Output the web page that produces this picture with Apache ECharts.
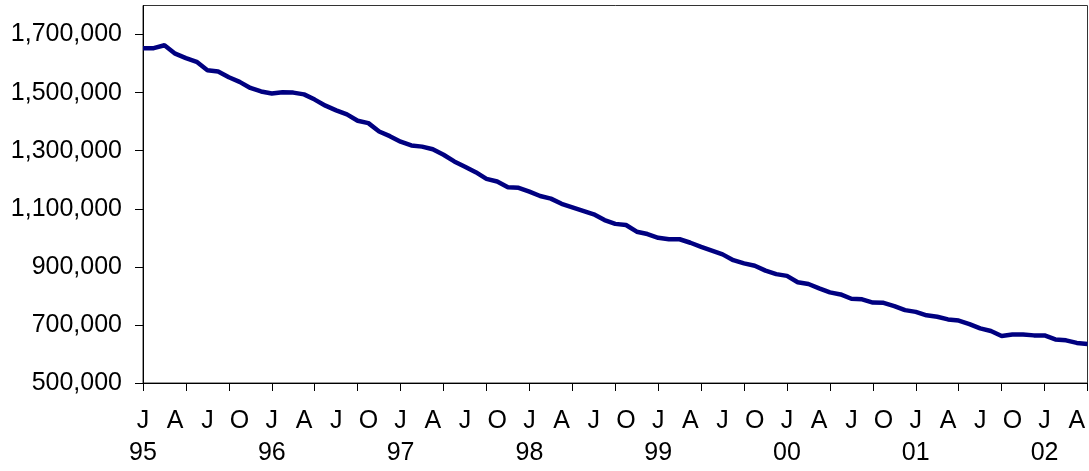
<!DOCTYPE html>
<html>
<head>
<meta charset="utf-8">
<script src="https://cdn.jsdelivr.net/npm/echarts@6/dist/echarts.min.js"></script>
<style>
  html, body { margin: 0; padding: 0; background: #fff; }
  #chart { width: 1089px; height: 471px; }
</style>
</head>
<body>
<div id="chart"></div>
<script>
// month letters and years for the x axis (Jan 1995 .. May 2002)
const monthLetters = ['J', 'F', 'M', 'A', 'M', 'J', 'J', 'A', 'S', 'O', 'N', 'D']
const years = ['95', '96', '97', '98', '99', '00', '01', '02']
const monthCount = 89

// monthly values
const values = [
  1653000, 1653000, 1663000, 1634000, 1619000, 1606000, 1577000, 1573000, 1553000, 1537000, 1516000, 1504000,
  1497000, 1501000, 1500000, 1494000, 1476000, 1455000, 1439000, 1425000, 1403000, 1395000, 1366000, 1350000,
  1331000, 1318000, 1314000, 1305000, 1286000, 1263000, 1245000, 1226000, 1203000, 1194000, 1174000, 1172000,
  1159000, 1144000, 1135000, 1117000, 1105000, 1093000, 1081000, 1061000, 1048000, 1044000, 1021000, 1013000,
  1000000, 995000, 995000, 983000, 969000, 956000, 943000, 923000, 912000, 904000, 887000, 875000,
  869000, 847000, 841000, 826000, 812000, 805000, 790000, 788000, 777000, 776000, 765000, 751000,
  745000, 733000, 728000, 719000, 715000, 703000, 688000, 679000, 662000, 667000, 667000, 664000,
  664000, 650000, 647000, 638000, 634000
]

// y axis ticks
const yMin = 500000
const yMax = 1800000
const yStep = 200000

// categories: one per month
const categories = []
for (let i = 0; i < monthCount; i++) {
  const m = i % 12
  const y = years[Math.floor(i / 12)]
  categories.push(m === 0 ? monthLetters[m] + '\n' + y : monthLetters[m])
}

const chart = echarts.init(document.getElementById('chart'))

const font = '"Liberation Sans", Arial, sans-serif'

chart.setOption({
  animation: false,
  grid: {
    left: 143,
    right: 1.5,
    top: 5.5,
    bottom: 88,
    show: true,
    borderColor: '#333',
    borderWidth: 1
  },
  xAxis: {
    type: 'category',
    data: categories,
    boundaryGap: false,
    axisLine: { lineStyle: { color: '#000', width: 1 } },
    axisTick: { interval: 3, length: 8, lineStyle: { color: '#000' } },
    axisLabel: {
      interval: 2,
      hideOverlap: false,
      color: '#000',
      fontFamily: font,
      fontSize: 25,
      lineHeight: 32,
      margin: 22
    },
    splitLine: { show: false }
  },
  yAxis: {
    type: 'value',
    min: yMin,
    max: yMax,
    interval: yStep,
    axisLine: { show: true, lineStyle: { color: '#000', width: 1 } },
    axisTick: { show: true, length: 8, lineStyle: { color: '#000' } },
    axisLabel: {
      showMaxLabel: false,
      color: '#000',
      fontFamily: font,
      fontSize: 25,
      margin: 21,
      formatter: v => v.toLocaleString('en-US')
    },
    splitLine: { show: false }
  },
  series: [{
    type: 'line',
    data: values,
    showSymbol: false,
    symbol: 'none',
    lineStyle: { color: '#000080', width: 4.5 }
  }]
})
</script>
</body>
</html>
